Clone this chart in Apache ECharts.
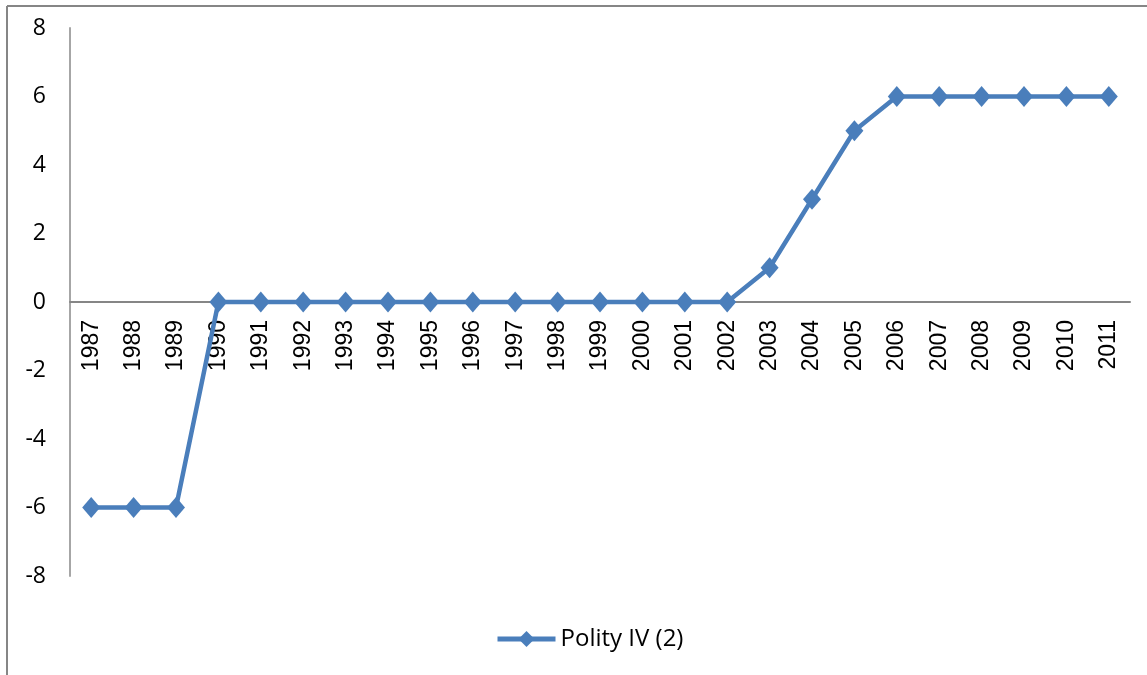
<!DOCTYPE html>
<html><head><meta charset="utf-8">
<script src="https://cdn.jsdelivr.net/npm/echarts@6/dist/echarts.min.js"></script>
<style>html,body{margin:0;padding:0;background:#fff}#c{width:1147px;height:675px}</style>
</head><body><div id="c"></div>
<script>
const years = ['1987','1988','1989','1990','1991','1992','1993','1994','1995','1996','1997','1998','1999','2000','2001','2002','2003','2004','2005','2006','2007','2008','2009','2010','2011'];
const polity = [-6,-6,-6,0,0,0,0,0,0,0,0,0,0,0,0,0,1,3,5,6,6,6,6,6,6];
const seriesName = 'Polity IV (2)';
const chart = echarts.init(document.getElementById('c'));
chart.setOption({
  animation:false,
  graphic:[
    {type:'line',shape:{x1:7,y1:6,x2:1147,y2:6},style:{stroke:'#868686',lineWidth:2}},
    {type:'line',shape:{x1:7,y1:6,x2:7,y2:675},style:{stroke:'#868686',lineWidth:2}}
  ],
  grid:{left:70,top:28,right:17,bottom:99,containLabel:false},
  legend:{bottom:19,left:490,itemWidth:58,itemHeight:20,itemGap:4,
    lineStyle:{width:5,color:'#4a7ebb'},itemStyle:{color:'#4a7ebb'},
    textStyle:{fontFamily:'Open Sans',fontSize:24,color:'#000'},data:[seriesName]},
  xAxis:{type:'category',data:years,boundaryGap:true,
    axisLine:{onZero:true,lineStyle:{color:'#868686',width:2}},
    axisTick:{show:false},
    axisLabel:{rotate:90,margin:-256,fontFamily:'Liberation Sans',fontSize:23,color:'#000',interval:0}},
  yAxis:{type:'value',min:-8,max:8,interval:2,
    axisLine:{show:true,lineStyle:{color:'#a6a6a6',width:2}},
    axisTick:{show:false},splitLine:{show:false},
    axisLabel:{margin:24,fontFamily:'Open Sans',fontSize:23,color:'#000'}},
  series:[{name:seriesName,type:'line',data:polity,symbol:'diamond',symbolSize:[18,21],
    lineStyle:{color:'#4a7ebb',width:4.5},itemStyle:{color:'#4a7ebb'}}]
});
</script></body></html>
